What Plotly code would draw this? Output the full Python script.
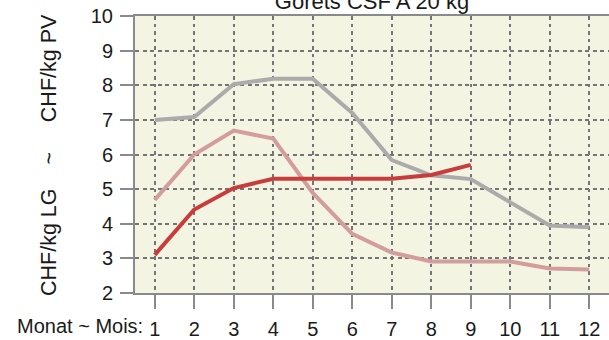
import plotly.graph_objects as go

months = list(range(1, 13))
pv_gray = [7.0, 7.08, 8.03, 8.19, 8.19, 7.2, 5.84, 5.4, 5.29, 4.63, 3.95, 3.9]
lg_pink = [4.69, 6.0, 6.69, 6.46, 4.89, 3.71, 3.17, 2.91, 2.91, 2.91, 2.71, 2.68]
red_months = list(range(1, 10))
red_vals = [3.1, 4.41, 5.03, 5.3, 5.3, 5.3, 5.3, 5.41, 5.7]

title_text = "Gorets CSF A 20 kg"
y_title = "CHF/kg LG" + "\u00a0" * 4 + "~" + "\u00a0" * 5 + "CHF/kg PV"
x_label = "Monat ~ Mois:"

FONT = "Liberation Sans, Arial, sans-serif"

fig = go.Figure()
fig.add_trace(go.Scatter(x=months, y=pv_gray, mode="lines",
                         line=dict(color="#ababab", width=4), showlegend=False))
fig.add_trace(go.Scatter(x=months, y=lg_pink, mode="lines",
                         line=dict(color="#d49d9d", width=4), showlegend=False))
fig.add_trace(go.Scatter(x=red_months, y=red_vals, mode="lines",
                         line=dict(color="#c93c3c", width=4), showlegend=False))

fig.update_layout(
    width=609, height=340,
    margin=dict(l=135, r=0, t=16, b=44),
    paper_bgcolor="white",
    plot_bgcolor="#f4f4e3",
    font=dict(family=FONT, size=20, color="#1a1a1a"),
    title=dict(text=title_text, x=372 / 609, xanchor="center",
               y=1 - 8.5 / 340, yanchor="bottom", font=dict(size=22)),
    xaxis=dict(range=[0.5, 12.5], tickmode="array", tickvals=months,
               ticktext=[str(m) for m in months],
               showgrid=True, gridcolor="#747474", gridwidth=2, griddash="3.5px,4px",
               showline=True, linecolor="#8a8a8a", linewidth=2, mirror=True,
               ticks="outside", ticklen=14, tickwidth=2, tickcolor="#8a8a8a",
               ticklabelstandoff=3,
               zeroline=False, fixedrange=True),
    yaxis=dict(range=[2, 10], tickmode="array", tickvals=list(range(2, 11)),
               showgrid=True, gridcolor="#747474", gridwidth=2, griddash="4px,3.5px",
               showline=True, linecolor="#8a8a8a", linewidth=2, mirror=False,
               ticks="outside", ticklen=13, tickwidth=2, tickcolor="#8a8a8a",
               ticklabelstandoff=3,
               zeroline=False, fixedrange=True),
    annotations=[
        dict(text=y_title, textangle=-90, xref="paper", yref="paper",
             x=(49 - 135) / 474, y=(296 - 156.5) / 280, xanchor="center",
             yanchor="middle", showarrow=False, font=dict(size=21.5)),
        dict(text=x_label, xref="paper", yref="paper",
             x=(145 - 135) / 474, y=-(329 - 296) / 280, xanchor="right",
             yanchor="middle", showarrow=False, font=dict(size=20)),
    ],
)

fig.write_html("out.html", config={"displayModeBar": False},
               post_script="document.body.style.margin='0';document.body.style.overflow='hidden';")
